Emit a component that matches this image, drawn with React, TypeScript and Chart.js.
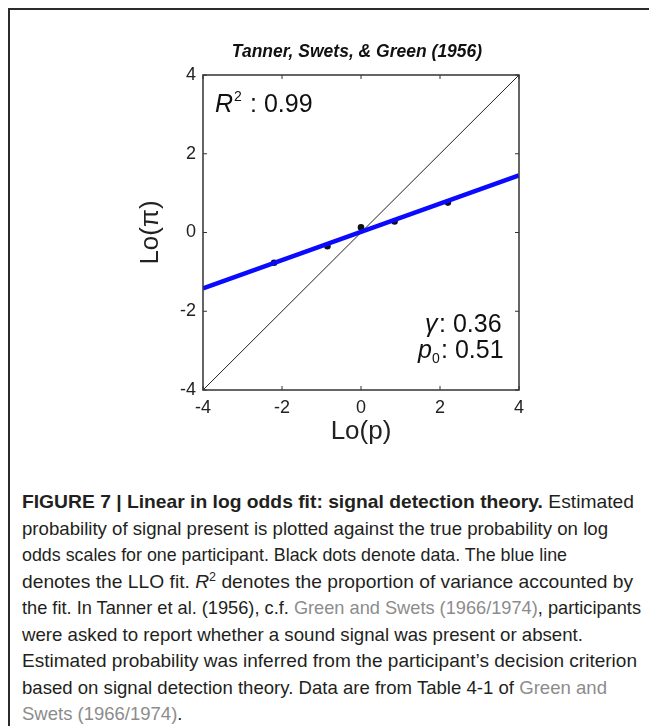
import React, { useEffect, useLayoutEffect, useRef } from "react";
import { Chart, registerables } from "chart.js";

Chart.register(...registerables);

// ---- data ----
const titleText = "Tanner, Swets, & Green (1956)";
const xTitle = "Lo(p)";
const yTitle = "Lo(π)";
const axisMin = -4;
const axisMax = 4;
const axisStep = 2;
const dataX = [-2.2, -0.85, 0, 0.85, 2.2];
const dataY = [-0.77, -0.35, 0.13, 0.28, 0.76];
const fitX = [-4, 4];
const fitY = [-1.42, 1.45];
const diagX = [-4, 4];
const diagY = [-4, 4];
const r2Value = "0.99";
const gammaValue = "0.36";
const p0Value = "0.51";

type Seg = { t: string; b?: boolean; i?: boolean; sup?: boolean; link?: boolean };
const captionLines: Seg[][] = [
  [{ t: "FIGURE 7 | Linear in log odds fit: signal detection theory.", b: true }, { t: " Estimated" }],
  [{ t: "probability of signal present is plotted against the true probability on log" }],
  [{ t: "odds scales for one participant. Black dots denote data. The blue line" }],
  [{ t: "denotes the LLO fit. " }, { t: "R", i: true }, { t: "2", sup: true }, { t: " denotes the proportion of variance accounted by" }],
  [{ t: "the fit. In Tanner et al. (1956), c.f. " }, { t: "Green and Swets (1966/1974)", link: true }, { t: ", participants" }],
  [{ t: "were asked to report whether a sound signal was present or absent." }],
  [{ t: "Estimated probability was inferred from the participant\u2019s decision criterion" }],
  [{ t: "based on signal detection theory. Data are from Table 4-1 of " }, { t: "Green and", link: true }],
  [{ t: "Swets (1966/1974)", link: true }, { t: "." }],
];
// layout: rendered width of each caption line (px); 0 = natural width
const captionLineWidths = [612, 586, 545, 611, 619, 561, 615, 585, 0];

const FONT = "'Liberation Sans', Arial, Helvetica, sans-serif";

const annotPlugin = {
  id: "annot",
  afterDraw(chart: any) {
    const { ctx, chartArea: a, scales } = chart;
    const xs = scales.x;
    const ys = scales.y;
    ctx.save();
    ctx.strokeStyle = "#333";
    ctx.lineWidth = 1.5;
    ctx.strokeRect(a.left, a.top, a.right - a.left, a.bottom - a.top);
    ctx.lineWidth = 1;
    const seg = (x1: number, y1: number, x2: number, y2: number) => {
      ctx.beginPath();
      ctx.moveTo(x1, y1);
      ctx.lineTo(x2, y2);
      ctx.stroke();
    };
    for (let v = axisMin; v <= axisMax; v += axisStep) {
      const px = xs.getPixelForValue(v);
      const py = ys.getPixelForValue(v);
      seg(px, a.bottom, px, a.bottom - 4);
      seg(px, a.top, px, a.top + 4);
      seg(a.left, py, a.left + 4, py);
      seg(a.right, py, a.right - 4, py);
    }
    ctx.fillStyle = "#111";
    ctx.textBaseline = "alphabetic";
    ctx.textAlign = "center";
    ctx.font = `italic bold 17.5px ${FONT}`;
    ctx.fillText(titleText, (a.left + a.right) / 2 - 4, a.top - 18);

    ctx.textAlign = "left";
    let x = a.left + 12;
    let y = a.top + 37;
    ctx.font = `italic 25px ${FONT}`;
    ctx.fillText("R", x, y);
    x += ctx.measureText("R").width + 1;
    ctx.font = `14px ${FONT}`;
    ctx.fillText("2", x, y - 11);
    ctx.font = `25px ${FONT}`;
    ctx.fillText(": " + r2Value, a.left + 47, y);

    const rx = a.right - 94;
    y = a.bottom - 58;
    ctx.font = `italic 25px ${FONT}`;
    ctx.fillText("\u03b3", rx, y);
    ctx.font = `25px ${FONT}`;
    ctx.fillText(": " + gammaValue, rx + 14, y);

    y = a.bottom - 32;
    const px0 = a.right - 101;
    ctx.font = `italic 25px ${FONT}`;
    ctx.fillText("p", px0, y);
    ctx.font = `14px ${FONT}`;
    ctx.fillText("0", px0 + 14, y + 5);
    ctx.font = `25px ${FONT}`;
    ctx.fillText(": " + p0Value, px0 + 23, y);
    ctx.restore();
  },
};

function LloChart() {
  const ref = useRef<HTMLCanvasElement | null>(null);
  useEffect(() => {
    if (!ref.current) return;
    const chart = new Chart(ref.current, {
      type: "scatter",
      data: {
        datasets: [
          {
            label: "LLO fit",
            data: fitX.map((v, i) => ({ x: v, y: fitY[i] })),
            showLine: true,
            borderColor: "#0a0aff",
            backgroundColor: "#0a0aff",
            borderWidth: 4.5,
            pointRadius: 0,
          },
          {
            label: "identity",
            data: diagX.map((v, i) => ({ x: v, y: diagY[i] })),
            showLine: true,
            borderColor: "#222",
            borderWidth: 1,
            pointRadius: 0,
          },
          {
            label: "data",
            data: dataX.map((v, i) => ({ x: v, y: dataY[i] })),
            showLine: false,
            pointRadius: 3.3,
            pointBackgroundColor: "#111",
            pointBorderColor: "#111",
            borderWidth: 0,
          },
        ],
      },
      options: {
        animation: false,
        responsive: false,
        maintainAspectRatio: false,
        layout: { padding: { top: 75, right: 138, left: 0, bottom: 0 } },
        plugins: { legend: { display: false }, tooltip: { enabled: false }, title: { display: false } },
        scales: {
          x: {
            type: "linear",
            min: axisMin,
            max: axisMax,
            afterFit: (s: any) => {
              s.height = 80;
            },
            ticks: { stepSize: axisStep, color: "#222", font: { size: 18, family: FONT }, padding: 7 },
            grid: { display: false, drawTicks: false },
            border: { display: false },
            title: {
              display: true,
              text: xTitle,
              color: "#222",
              font: { size: 26, family: FONT },
              padding: { top: 0, bottom: 22.4 },
            },
          },
          y: {
            type: "linear",
            min: axisMin,
            max: axisMax,
            afterFit: (s: any) => {
              s.width = 203;
            },
            ticks: { stepSize: axisStep, color: "#222", font: { size: 18, family: FONT }, padding: 7 },
            grid: { display: false, drawTicks: false },
            border: { display: false },
            title: {
              display: true,
              text: yTitle,
              color: "#222",
              font: { size: 26, family: FONT },
              padding: { top: 135.4, bottom: 0 },
            },
          },
        },
      },
      plugins: [annotPlugin],
    } as any);
    return () => chart.destroy();
  }, []);
  return (
    <canvas
      ref={ref}
      width={657}
      height={470}
      style={{ position: "absolute", left: -8, top: -8, width: 657, height: 470 }}
    />
  );
}

function Caption() {
  const lineRefs = useRef<(HTMLSpanElement | null)[]>([]);
  useLayoutEffect(() => {
    lineRefs.current.forEach((el, i) => {
      if (!el) return;
      el.style.transform = "none";
      const w = el.getBoundingClientRect().width;
      const target = captionLineWidths[i];
      if (w > 0 && target) el.style.transform = `scaleX(${target / w})`;
    });
  }, []);
  return (
    <div
      style={{
        position: "absolute",
        left: 14,
        top: 481,
        fontFamily: FONT,
        fontSize: 18.5,
        lineHeight: "26.5px",
        color: "#231f20",
        whiteSpace: "nowrap",
      }}
    >
      {captionLines.map((line, li) => (
        <div key={li}>
          <span
            ref={(el) => {
              lineRefs.current[li] = el;
            }}
            style={{ display: "inline-block", transformOrigin: "0 50%" }}
          >
            {line.map((s, si) => (
              <span
                key={si}
                style={{
                  fontWeight: s.b ? "bold" : "normal",
                  fontStyle: s.i ? "italic" : "normal",
                  color: s.link ? "#8c8c8c" : undefined,
                  fontSize: s.sup ? 12 : undefined,
                  verticalAlign: s.sup ? "super" : undefined,
                  lineHeight: s.sup ? 0 : undefined,
                }}
              >
                {s.t}
              </span>
            ))}
          </span>
        </div>
      ))}
    </div>
  );
}

export default function App() {
  return (
    <div style={{ position: "relative", width: 649, height: 718, background: "#fff" }}>
      <div style={{ position: "absolute", left: 0, top: 0, width: 649, height: 2, background: "#2b2b2b" }} />
      <div style={{ position: "absolute", left: 0, top: 0, width: 2, height: 718, background: "#2b2b2b" }} />
      <LloChart />
      <Caption />
    </div>
  );
}
